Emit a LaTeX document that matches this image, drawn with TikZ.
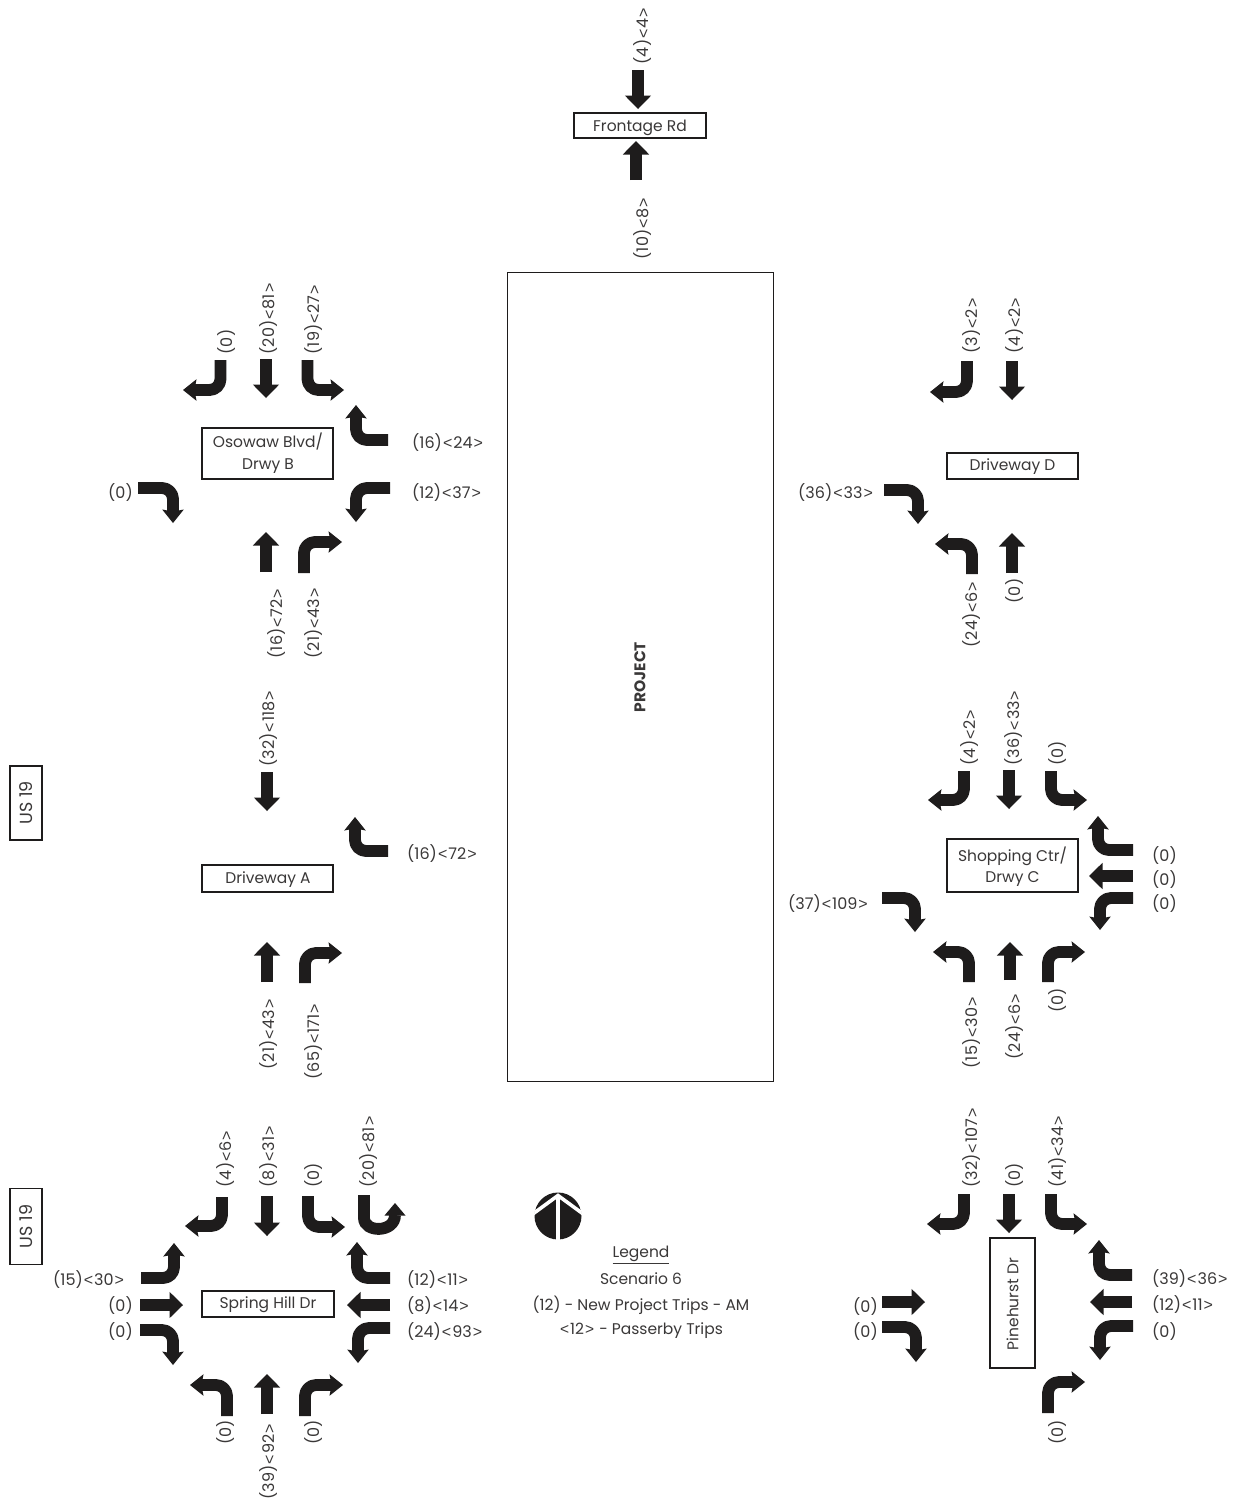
\documentclass[tikz,border=0pt]{standalone}
\usepackage{fontspec}
\setmainfont{Poppins}
\newfontfamily\ltgt{Liberation Sans}
\usetikzlibrary{calc}
\definecolor{ink}{HTML}{1E1C1C}
\definecolor{txt}{HTML}{3A3838}
\newcounter{lbl}
\tikzset{
  x=1pt,y=-1pt,
  lab/.style={inner sep=0pt,text=txt,font=\fontsize{16}{16}\selectfont},
  vlab/.style={lab,rotate=90,anchor=west,xshift=-2.5pt,yshift=-1pt},
  hlab/.style={lab,anchor=west,yshift=-0.5pt},
  road/.style={draw=ink,line width=1.3pt,fill=white,inner sep=0pt,minimum width=0pt},
  roadtext/.style={inner sep=0pt,text=txt,font=\fontsize{15.5}{16}\selectfont,yshift=-1pt},
  ustext/.style={inner sep=0pt,text=txt,font=\fontsize{17.5}{18}\selectfont,rotate=90},
  shaft/.style={draw=ink,line width=11.8pt,line cap=butt,line join=round,rounded corners=11pt},
  sshaft/.style={draw=ink,line width=12.4pt,line cap=butt},
  tip/.style={fill=ink,draw=none},
}
% text of a label: the angle brackets come from a font where they are wide
\newcommand\LtB{\kern1pt{\ltgt <}\kern1pt}
\newcommand\GtB{\kern1pt{\ltgt >}\kern1pt}
\def\Fmt#1<#2>#3\End{\ifx\relax#3\relax #1\else #1\LtB#2\GtB\fi}
\newcommand\VLab[3]{\stepcounter{lbl}\node[vlab] (lbl\thelbl) at (#1,#2) {\Fmt#3<>\End};}
\newcommand\HLab[3]{\stepcounter{lbl}\node[hlab] (lbl\thelbl) at (#1,#2) {\Fmt#3<>\End};}
% arrows
\newcommand\HeadFrom[3]{% half width, base, tip
  \fill[tip] #3 -- ($#2!#1pt!90:#3$) -- ($#2!#1pt!-90:#3$) -- cycle;}
\newcommand\StrA[4]{% straight: tail x,y, tip x,y
  \coordinate (T) at (#1,#2); \coordinate (H) at (#3,#4);
  \coordinate (B) at ($(H)!13.5pt!(T)$);
  \draw[sshaft] (T) -- ($(B)!1pt!(H)$);
  \HeadFrom{13.2}{(B)}{(H)}}
\newcommand\TurnA[3]{% turn: tail, corner, tip; the barbs sweep slightly back
  \coordinate (T) at #1; \coordinate (C) at #2; \coordinate (H) at #3;
  \coordinate (B) at ($(H)!11.5pt!(C)$);
  \coordinate (K) at ($(H)!13.5pt!(C)$);
  \draw[shaft] (T) -- (C) -- ($(B)!1pt!(H)$);
  \fill[tip] (H) -- ($(K)!10.8pt!90:(H)$) -- (B) -- ($(K)!10.8pt!-90:(H)$) -- cycle;}
\newcommand\TurnV[4]{\TurnA{(#1,#2)}{(#1,#4)}{(#3,#4)}} % tail runs vertically
\newcommand\TurnH[4]{\TurnA{(#1,#2)}{(#3,#2)}{(#3,#4)}} % tail runs horizontally
\begin{document}
\begin{tikzpicture}
\useasboundingbox (0,0) rectangle (1238,1500);
\fill[white] (0,0) rectangle (1238,1500);

% project block
\node[road,minimum width=266pt,minimum height=809pt,anchor=north west,line width=1.2pt] (project) at (507,272) {};
\node[roadtext,rotate=90,font=\fontsize{15.5}{16}\selectfont\bfseries] (projecttext) at (640,676) {PROJECT};

% street name boxes
\node[road,minimum width=132pt,minimum height=25pt] (frontage) at (640,125.5) {};
\node[roadtext] (frontaget) at (640,126.5) {Frontage Rd};
\node[road,minimum width=131pt,minimum height=51pt] (osowaw) at (267.5,453.5) {};
\node[roadtext] (osowawa) at (268,441) {Osowaw Blvd/};
\node[roadtext] (osowawb) at (268,465) {Drwy B};
\node[road,minimum width=131pt,minimum height=26pt] (dwd) at (1012.5,466) {};
\node[roadtext] (dwdt) at (1012.5,466) {Driveway D};
\node[road,minimum width=131pt,minimum height=53pt] (shop) at (1012.5,865.5) {};
\node[roadtext] (shopa) at (1012.5,855) {Shopping Ctr/};
\node[roadtext] (shopb) at (1012.5,878) {Drwy C};
\node[road,minimum width=131pt,minimum height=27pt] (dwa) at (267.5,878.5) {};
\node[roadtext] (dwat) at (268,879) {Driveway A};
\node[road,minimum width=132pt,minimum height=26pt] (spring) at (268,1304) {};
\node[roadtext] (springt) at (268,1304) {Spring Hill Dr};
\node[road,minimum width=45pt,minimum height=130pt] (pine) at (1012.5,1303) {};
\node[roadtext,rotate=90] (pinet) at (1012.5,1303) {Pinehurst Dr};
\node[road,minimum width=32pt,minimum height=74pt] (usa) at (26,803) {};
\node[ustext] (usat) at (26,803) {US 19};
\node[road,minimum width=32pt,minimum height=76pt] (usb) at (26,1226.5) {};
\node[ustext] (usbt) at (26,1226.5) {US 19};

% Frontage Rd
\StrA{638}{70}{638}{109}
\StrA{636}{180}{636}{141}
\VLab{642}{62}{(4)<4>}
\VLab{642}{257}{(10)<8>}

% Osowaw Blvd / Drwy B
\TurnV{220.5}{360}{183}{390}
\StrA{266}{359}{266}{398}
\TurnV{307.5}{360}{344}{390}
\TurnH{388}{440}{356}{405}
\TurnH{390}{488}{356}{522}
\TurnH{138}{488}{173}{523}
\StrA{266}{572}{266}{532}
\TurnV{304}{573}{342}{542}
\VLab{226}{352}{(0)}
\VLab{268}{352}{(20)<81>}
\VLab{313}{352}{(19)<27>}
\HLab{412}{442}{(16)<24>}
\HLab{412}{492}{(12)<37>}
\HLab{108}{492}{(0)}
\VLab{276}{656}{(16)<72>}
\VLab{313}{656}{(21)<43>}

% Driveway D
\TurnV{967}{361}{930}{392}
\StrA{1012}{361}{1012}{400}
\TurnH{884}{490}{918}{524}
\TurnV{972}{574}{935}{544}
\StrA{1012}{573}{1012}{533}
\VLab{971}{351}{(3)<2>}
\VLab{1014}{351}{(4)<2>}
\HLab{798}{492}{(36)<33>}
\VLab{971}{645}{(24)<6>}
\VLab{1014}{601}{(0)}

% Shopping Ctr / Drwy C
\TurnV{964}{771}{928}{800}
\StrA{1009}{770}{1009}{809}
\TurnV{1051}{771}{1087}{800}
\TurnH{1133}{850}{1098}{816}
\StrA{1133}{876}{1089}{876}
\TurnH{1133}{898}{1100}{930}
\TurnH{882}{898}{915}{932}
\TurnV{969}{982}{933}{952}
\StrA{1010}{980}{1010}{942}
\TurnV{1048}{982}{1085}{952}
\VLab{969}{763}{(4)<2>}
\VLab{1013}{763}{(36)<33>}
\VLab{1057}{763}{(0)}
\HLab{1152}{855}{(0)}
\HLab{1152}{879}{(0)}
\HLab{1152}{903}{(0)}
\HLab{788}{903}{(37)<109>}
\VLab{971}{1066}{(15)<30>}
\VLab{1014}{1057}{(24)<6>}
\VLab{1057}{1010}{(0)}

% Driveway A
\StrA{267}{772}{267}{811}
\TurnH{388}{851}{355}{817}
\StrA{267}{982}{267}{942}
\TurnV{305}{983}{342}{953}
\VLab{268}{764}{(32)<118>}
\HLab{407}{853}{(16)<72>}
\VLab{268}{1067}{(21)<43>}
\VLab{313}{1077}{(65)<171>}

% Spring Hill Dr
\TurnV{222}{1197}{185}{1226}
\StrA{267}{1196}{267}{1236}
\TurnV{308}{1196}{345}{1227}
\draw[sshaft,line width=11.8pt] (364,1195) -- (364,1218) .. controls (364,1233) and (395,1233) .. (395,1215);
\fill[tip] (395,1203) -- (405.5,1215.5) -- (384.5,1215.5) -- cycle;
\TurnH{141}{1278}{174}{1243}
\StrA{140}{1305}{183}{1305}
\TurnH{140}{1330}{173}{1365}
\TurnH{390}{1278}{357}{1242}
\StrA{390}{1305}{347}{1305}
\TurnH{390}{1328}{358}{1363}
\TurnV{227}{1416}{190}{1385}
\StrA{267}{1414}{267}{1374}
\TurnV{305}{1416}{343}{1385}
\VLab{225}{1185}{(4)<6>}
\VLab{268}{1185}{(8)<31>}
\VLab{313}{1185}{(0)}
\VLab{368}{1185}{(20)<81>}
\HLab{53}{1279}{(15)<30>}
\HLab{108}{1305}{(0)}
\HLab{108}{1331}{(0)}
\HLab{407}{1279}{(12)<11>}
\HLab{407}{1305}{(8)<14>}
\HLab{407}{1331}{(24)<93>}
\VLab{225}{1442}{(0)}
\VLab{268}{1497}{(39)<92>}
\VLab{313}{1442}{(0)}

% Pinehurst Dr
\TurnV{964}{1194}{927}{1224}
\StrA{1009}{1194}{1009}{1233}
\TurnV{1051}{1194}{1087}{1224}
\TurnH{1132}{1275}{1099}{1240}
\StrA{1132}{1302}{1090}{1302}
\TurnH{1133}{1326}{1100}{1360}
\StrA{882}{1302}{925}{1302}
\TurnH{882}{1327}{916}{1362}
\TurnV{1048}{1413}{1085}{1382}
\VLab{971}{1185}{(32)<107>}
\VLab{1014}{1185}{(0)}
\VLab{1057}{1185}{(41)<34>}
\HLab{1152}{1278}{(39)<36>}
\HLab{1152}{1304}{(12)<11>}
\HLab{1152}{1331}{(0)}
\HLab{853}{1306}{(0)}
\HLab{853}{1331}{(0)}
\VLab{1057}{1442}{(0)}

% north symbol
\begin{scope}
  \clip (558,1216) circle[radius=24];
  \fill[ink] (558,1216) circle[radius=23.5];
  \draw[white,line width=4.5pt] (558,1196) -- (558,1242);
  \draw[white,line width=3.6pt] (530,1216) -- (558,1195.5) -- (586,1216);
\end{scope}

% legend
\node[roadtext] (leg1) at (641,1254) {\underline{Legend}};
\node[roadtext] (leg2) at (641,1278) {Scenario 6};
\node[roadtext] (leg3) at (641,1304) {(12) - New Project Trips - AM};
\node[roadtext] (leg4) at (641,1330) {\LtB 12\GtB{} - Passerby Trips};
\end{tikzpicture}
\end{document}
